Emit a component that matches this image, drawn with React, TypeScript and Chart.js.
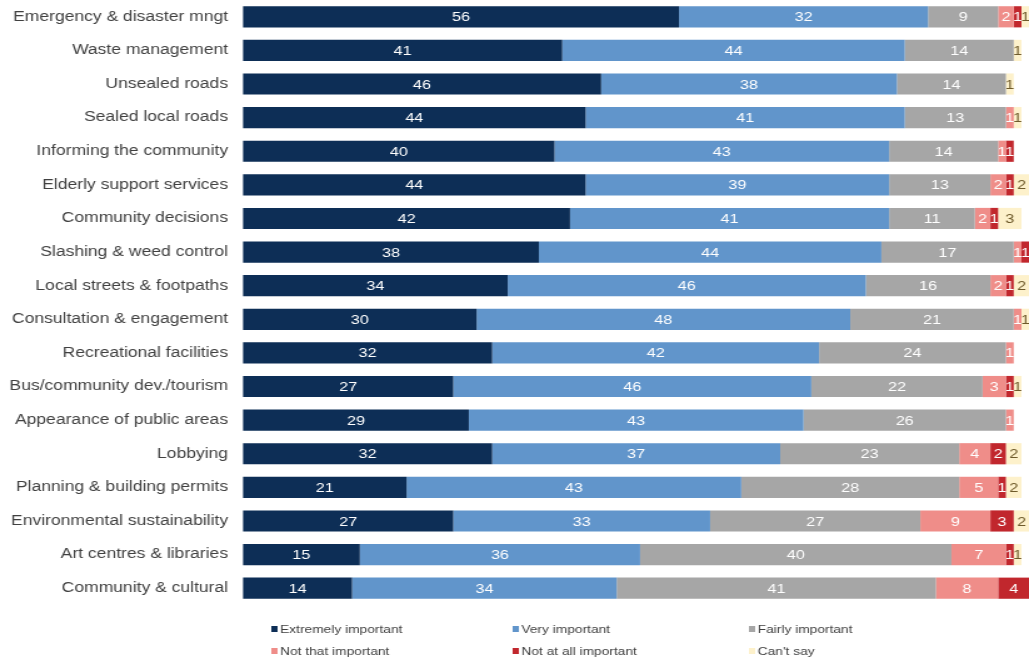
import React, { useEffect, useRef } from "react";
import { Chart, registerables } from "chart.js";

Chart.register(...registerables);

const categories = [
  "Emergency & disaster mngt",
  "Waste management",
  "Unsealed roads",
  "Sealed local roads",
  "Informing the community",
  "Elderly support services",
  "Community decisions",
  "Slashing & weed control",
  "Local streets & footpaths",
  "Consultation & engagement",
  "Recreational facilities",
  "Bus/community dev./tourism",
  "Appearance of public areas",
  "Lobbying",
  "Planning & building permits",
  "Environmental sustainability",
  "Art centres & libraries",
  "Community & cultural",
];

const seriesNames = [
  "Extremely important",
  "Very important",
  "Fairly important",
  "Not that important",
  "Not at all important",
  "Can't say",
];

const extremelyImportant = [56, 41, 46, 44, 40, 44, 42, 38, 34, 30, 32, 27, 29, 32, 21, 27, 15, 14];
const veryImportant = [32, 44, 38, 41, 43, 39, 41, 44, 46, 48, 42, 46, 43, 37, 43, 33, 36, 34];
const fairlyImportant = [9, 14, 14, 13, 14, 13, 11, 17, 16, 21, 24, 22, 26, 23, 28, 27, 40, 41];
const notThatImportant = [2, 0, 0, 1, 1, 2, 2, 1, 2, 1, 1, 3, 1, 4, 5, 9, 7, 8];
const notAtAllImportant = [1, 0, 0, 0, 1, 1, 1, 1, 1, 0, 0, 1, 0, 2, 1, 3, 1, 4];
const cantSay = [1, 1, 1, 1, 0, 2, 3, 1, 2, 1, 0, 1, 0, 2, 2, 2, 1, 1];

const colors = ["#0d2e56", "#6195cb", "#a6a6a6", "#ef8d89", "#c1272d", "#fdf1cb"];
const labelColors = ["#ffffff", "#ffffff", "#ffffff", "#ffffff", "#ffffff", "#6e5a2a"];

const FONT = "'Liberation Sans', Arial, sans-serif";

const dataLabelPlugin = {
  id: "dataLabels",
  afterDatasetsDraw(chart: any) {
    const ctx = chart.ctx;
    ctx.save();
    ctx.font = `13px ${FONT}`;
    ctx.textAlign = "center";
    ctx.textBaseline = "middle";
    chart.data.datasets.forEach((ds: any, i: number) => {
      const meta = chart.getDatasetMeta(i);
      meta.data.forEach((bar: any, j: number) => {
        const v = ds.data[j];
        if (!v) return;
        const p = bar.getProps(["x", "y", "base"], true);
        ctx.fillStyle = labelColors[i];
        ctx.fillText(String(v), (p.x + p.base) / 2, p.y + 1);
      });
    });
    ctx.restore();
  },
};

const legendPlugin = {
  id: "gridLegend",
  afterDraw(chart: any) {
    const ctx = chart.ctx;
    const colX = [217, 410, 599];
    const rowY = [629, 651];
    ctx.save();
    ctx.font = `11px ${FONT}`;
    ctx.textBaseline = "middle";
    ctx.textAlign = "left";
    seriesNames.forEach((name, i) => {
      const x = colX[i % 3];
      const y = rowY[Math.floor(i / 3)];
      ctx.fillStyle = colors[i];
      ctx.fillRect(x, y - 3, 5, 6);
      ctx.fillStyle = "#404040";
      ctx.fillText(name, x + 7, y + 0.5);
    });
    ctx.restore();
  },
};

export default function App() {
  const canvasRef = useRef<HTMLCanvasElement | null>(null);

  useEffect(() => {
    const canvas = canvasRef.current;
    if (!canvas) return;
    const series = [
      extremelyImportant,
      veryImportant,
      fairlyImportant,
      notThatImportant,
      notAtAllImportant,
      cantSay,
    ];
    const chart = new Chart(canvas, {
      type: "bar",
      data: {
        labels: categories,
        datasets: series.map((d, i) => ({
          label: seriesNames[i],
          data: d,
          backgroundColor: colors[i],
          borderWidth: 0,
          barPercentage: 0.63,
          categoryPercentage: 1,
          clip: false as any,
        })),
      },
      options: {
        indexAxis: "y",
        responsive: false,
        animation: false,
        devicePixelRatio: 1,
        layout: { padding: { left: 0, right: 6, top: 0, bottom: 58 } },
        plugins: {
          legend: { display: false },
          tooltip: { enabled: false },
        },
        scales: {
          x: {
            stacked: true,
            min: 0,
            max: 100,
            display: false,
          },
          y: {
            stacked: true,
            grid: { display: false, drawTicks: false },
            border: { display: false },
            ticks: {
              color: "#404040",
              font: { family: FONT, size: 14 },
              padding: 12,
              autoSkip: false,
            },
            afterFit(scale: any) {
              scale.width = 194.4;
              scale.paddingTop = 0;
              scale.paddingBottom = 0;
            },
          },
        },
      },
      plugins: [dataLabelPlugin, legendPlugin],
    });
    return () => chart.destroy();
  }, []);

  return (
    <div style={{ position: "absolute", left: 0, top: 0, width: 1029, height: 663, background: "#ffffff" }}>
      <canvas
        ref={canvasRef}
        width={823}
        height={663}
        style={{ width: "1029px", height: "663px", display: "block" }}
      />
    </div>
  );
}
